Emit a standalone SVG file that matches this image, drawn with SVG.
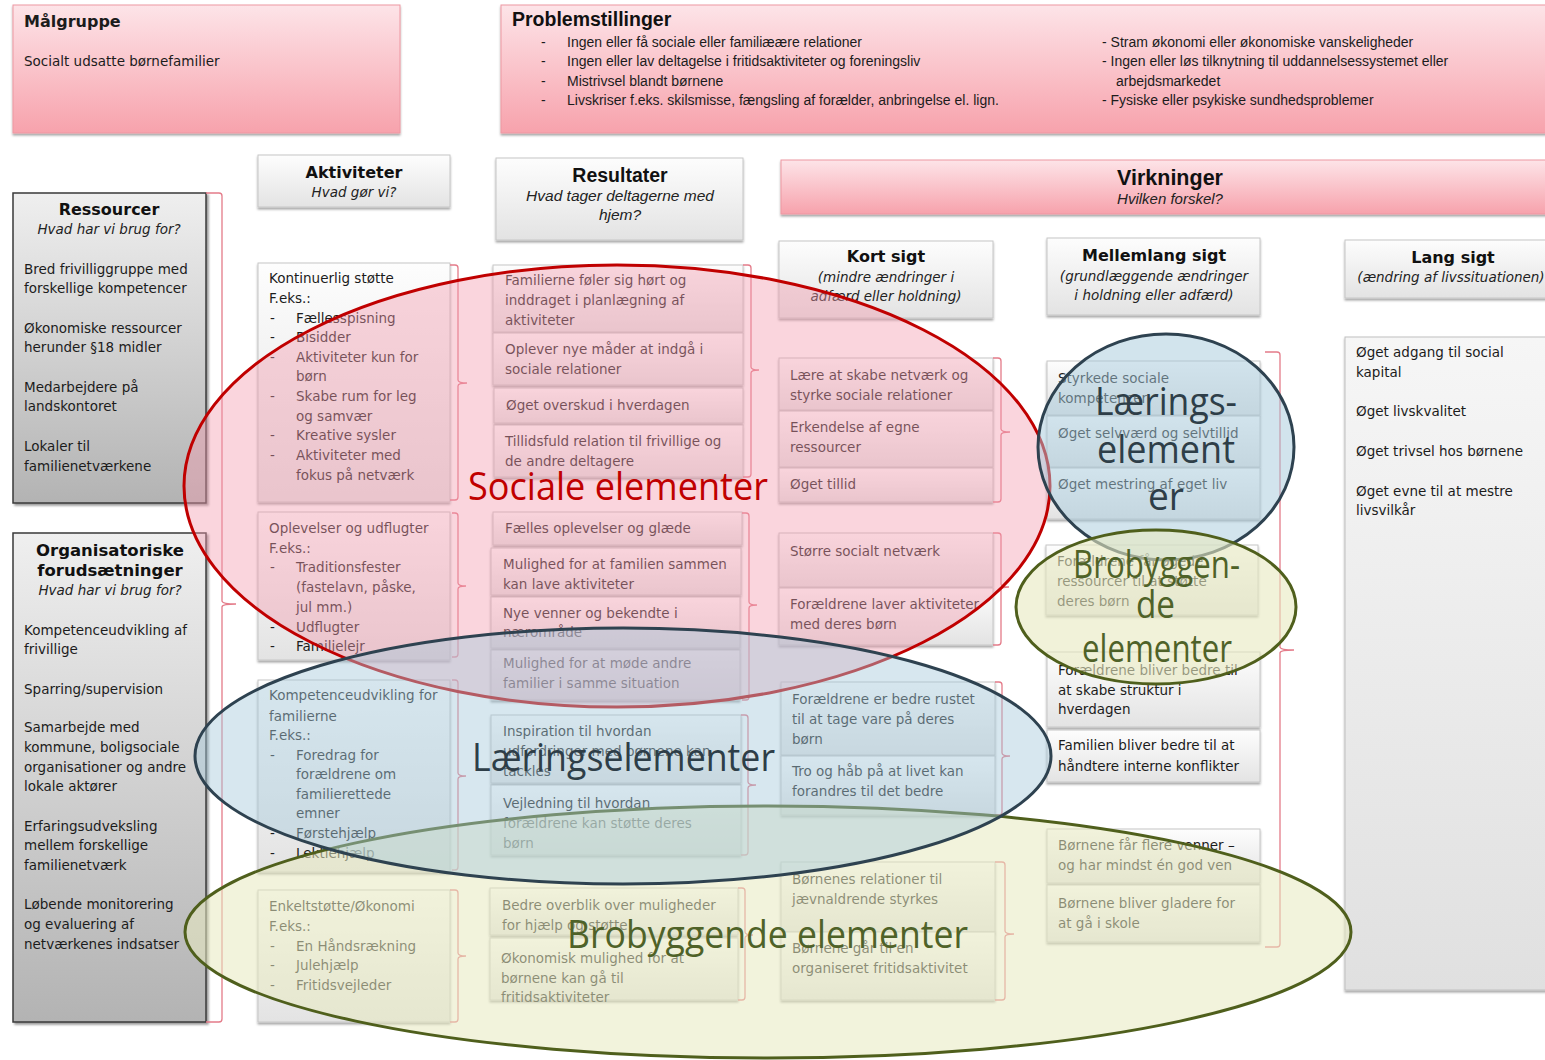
<svg xmlns="http://www.w3.org/2000/svg" width="1545" height="1060" viewBox="0 0 1545 1060">
<defs>
<linearGradient id="gGray" x1="0" y1="0" x2="0" y2="1"><stop offset="0" stop-color="#fdfdfd"/><stop offset="1" stop-color="#e3e3e3"/></linearGradient>
<linearGradient id="gDark" x1="0" y1="0" x2="0" y2="1"><stop offset="0" stop-color="#efefef"/><stop offset="1" stop-color="#b3b3b3"/></linearGradient>
<linearGradient id="gPink" x1="0" y1="0" x2="0" y2="1"><stop offset="0" stop-color="#fde4e8"/><stop offset="1" stop-color="#f7a2ac"/></linearGradient>
<linearGradient id="gLang" x1="0" y1="0" x2="0" y2="1"><stop offset="0" stop-color="#f6f6f6"/><stop offset="1" stop-color="#e0e0e0"/></linearGradient>
<filter id="sh" x="-5%" y="-5%" width="110%" height="120%"><feDropShadow dx="0" dy="2" stdDeviation="0.8" flood-color="#000" flood-opacity="0.35"/></filter>
<filter id="sh2" x="-5%" y="-5%" width="115%" height="115%"><feDropShadow dx="2" dy="2" stdDeviation="1" flood-color="#000" flood-opacity="0.4"/></filter>
<style>
.box{fill:url(#gGray);stroke:#c6c6c6;stroke-width:1;filter:url(#sh)}
.dbox{fill:url(#gDark);stroke:#3a3a3a;stroke-width:1.5;filter:url(#sh2)}
.pbox{fill:url(#gPink);stroke:#ee97a2;stroke-width:1;filter:url(#sh)}
.lbox{fill:url(#gLang);stroke:#c0c0c0;stroke-width:1;filter:url(#sh)}
.t{font-family:"DejaVu Sans",Verdana,sans-serif;font-size:13.5px;fill:#1c1c1c}
.h{font-family:"DejaVu Sans",Verdana,sans-serif;font-size:16px;font-weight:bold;fill:#111;text-anchor:middle}
.hi{font-family:"DejaVu Sans",Verdana,sans-serif;font-size:13.5px;font-style:italic;fill:#222;text-anchor:middle}
.c{font-family:"Liberation Sans",Arial,sans-serif;font-size:14px;fill:#1c1c1c}
.ch{font-family:"Liberation Sans",Arial,sans-serif;font-size:19.5px;font-weight:bold;fill:#111}
.ci{font-family:"Liberation Sans",Arial,sans-serif;font-size:15.5px;font-style:italic;fill:#222;text-anchor:middle}
.br{fill:none;stroke:#e47b89;stroke-width:1.3}
.big{font-family:"Open Sans","Liberation Sans",sans-serif;font-size:38px}
</style>
</defs>

<g id="malgruppe">
<rect class="pbox" x="13" y="5" width="387" height="128"/>
<text x="24" y="27" class="t" style="font-weight:bold;font-size:16px">Målgruppe</text>
<text x="24" y="66" class="t">Socialt udsatte børnefamilier</text>
</g>

<g id="problemstillinger">
<rect class="pbox" x="501" y="5" width="1050" height="128"/>
<text x="512" y="26" class="ch">Problemstillinger</text>
<text x="541" y="47" class="c">-</text><text x="567" y="47" class="c">Ingen eller få sociale eller familiæære relationer</text>
<text x="541" y="66" class="c">-</text><text x="567" y="66" class="c">Ingen eller lav deltagelse i fritidsaktiviteter og foreningsliv</text>
<text x="541" y="86" class="c">-</text><text x="567" y="86" class="c">Mistrivsel blandt børnene</text>
<text x="541" y="105" class="c">-</text><text x="567" y="105" class="c">Livskriser f.eks. skilsmisse, fængsling af forælder, anbringelse el. lign.</text>
<text x="1102" y="47" class="c">- Stram økonomi eller økonomiske vanskeligheder</text>
<text x="1102" y="66" class="c">- Ingen eller løs tilknytning til uddannelsessystemet eller</text>
<text x="1116" y="86" class="c">arbejdsmarkedet</text>
<text x="1102" y="105" class="c">- Fysiske eller psykiske sundhedsproblemer</text>
</g>

<g id="aktiviteter-header">
<rect class="box" x="258" y="155" width="192" height="52"/>
<text x="354" y="178" class="h">Aktiviteter</text>
<text x="354" y="197" class="hi">Hvad gør vi?</text>
</g>

<g id="resultater-header">
<rect class="box" x="496" y="158" width="247" height="82"/>
<text x="620" y="182" class="ch" text-anchor="middle">Resultater</text>
<text x="620" y="201" class="ci">Hvad tager deltagerne med</text>
<text x="620" y="220" class="ci">hjem?</text>
</g>

<g id="virkninger-header">
<rect class="pbox" x="781" y="160" width="770" height="54"/>
<text x="1170" y="185" class="ch" text-anchor="middle" style="font-size:21.5px">Virkninger</text>
<text x="1170" y="204" class="ci" style="font-size:15px">Hvilken forskel?</text>
</g>

<g id="ressourcer">
<rect class="dbox" x="13" y="193" width="193" height="310"/>
<text x="109" y="215" class="h">Ressourcer</text>
<text x="109" y="234" class="hi">Hvad har vi brug for?</text>
<text x="24" y="274" class="t">Bred frivilliggruppe med</text>
<text x="24" y="293" class="t">forskellige kompetencer</text>
<text x="24" y="333" class="t">Økonomiske ressourcer</text>
<text x="24" y="352" class="t">herunder §18 midler</text>
<text x="24" y="392" class="t">Medarbejdere på</text>
<text x="24" y="411" class="t">landskontoret</text>
<text x="24" y="451" class="t">Lokaler til</text>
<text x="24" y="471" class="t">familienetværkene</text>
</g>

<g id="organisatoriske">
<rect class="dbox" x="13" y="533" width="193" height="489"/>
<text x="110" y="556" class="h" style="font-size:16.5px">Organisatoriske</text>
<text x="110" y="576" class="h" style="font-size:16.5px">forudsætninger</text>
<text x="110" y="595" class="hi">Hvad har vi brug for?</text>
<text x="24" y="635" class="t">Kompetenceudvikling af</text>
<text x="24" y="654" class="t">frivillige</text>
<text x="24" y="694" class="t">Sparring/supervision</text>
<text x="24" y="732" class="t">Samarbejde med</text>
<text x="24" y="752" class="t">kommune, boligsociale</text>
<text x="24" y="772" class="t">organisationer og andre</text>
<text x="24" y="791" class="t">lokale aktører</text>
<text x="24" y="831" class="t">Erfaringsudveksling</text>
<text x="24" y="850" class="t">mellem forskellige</text>
<text x="24" y="870" class="t">familienetværk</text>
<text x="24" y="909" class="t">Løbende monitorering</text>
<text x="24" y="929" class="t">og evaluering af</text>
<text x="24" y="949" class="t">netværkenes indsatser</text>
</g>

<g id="akt-kontinuerlig">
<rect class="box" x="258" y="263" width="192" height="239"/>
<text x="269" y="283" class="t">Kontinuerlig støtte</text>
<text x="269" y="303" class="t">F.eks.:</text>
<text x="270" y="323" class="t">-</text><text x="296" y="323" class="t">Fællesspisning</text>
<text x="270" y="342" class="t">-</text><text x="296" y="342" class="t">Bisidder</text>
<text x="270" y="362" class="t">-</text><text x="296" y="362" class="t">Aktiviteter kun for</text>
<text x="296" y="381" class="t">børn</text>
<text x="270" y="401" class="t">-</text><text x="296" y="401" class="t">Skabe rum for leg</text>
<text x="296" y="421" class="t">og samvær</text>
<text x="270" y="440" class="t">-</text><text x="296" y="440" class="t">Kreative sysler</text>
<text x="270" y="460" class="t">-</text><text x="296" y="460" class="t">Aktiviteter med</text>
<text x="296" y="480" class="t">fokus på netværk</text>
</g>

<g id="akt-oplevelser">
<rect class="box" x="258" y="512" width="192" height="148"/>
<text x="269" y="533" class="t">Oplevelser og udflugter</text>
<text x="269" y="553" class="t">F.eks.:</text>
<text x="270" y="572" class="t">-</text><text x="296" y="572" class="t">Traditionsfester</text>
<text x="296" y="592" class="t">(fastelavn, påske,</text>
<text x="296" y="612" class="t">jul mm.)</text>
<text x="270" y="632" class="t">-</text><text x="296" y="632" class="t">Udflugter</text>
<text x="270" y="651" class="t">-</text><text x="296" y="651" class="t">Familielejr</text>
</g>

<g id="akt-kompetence">
<rect class="box" x="258" y="680" width="192" height="192"/>
<text x="269" y="700" class="t">Kompetenceudvikling for</text>
<text x="269" y="721" class="t">familierne</text>
<text x="269" y="740" class="t">F.eks.:</text>
<text x="270" y="760" class="t">-</text><text x="296" y="760" class="t">Foredrag for</text>
<text x="296" y="779" class="t">forældrene om</text>
<text x="296" y="799" class="t">familierettede</text>
<text x="296" y="818" class="t">emner</text>
<text x="270" y="838" class="t">-</text><text x="296" y="838" class="t">Førstehjælp</text>
<text x="270" y="858" class="t">-</text><text x="296" y="858" class="t">Lektiehjælp</text>
</g>

<g id="akt-enkeltstotte">
<rect class="box" x="258" y="890" width="192" height="132"/>
<text x="269" y="911" class="t">Enkeltstøtte/Økonomi</text>
<text x="269" y="931" class="t">F.eks.:</text>
<text x="270" y="951" class="t">-</text><text x="296" y="951" class="t">En Håndsrækning</text>
<text x="270" y="970" class="t">-</text><text x="296" y="970" class="t">Julehjælp</text>
<text x="270" y="990" class="t">-</text><text x="296" y="990" class="t">Fritidsvejleder</text>
</g>

<g id="res-1">
<rect class="box" x="493" y="265" width="250" height="67"/>
<text x="505" y="285" class="t">Familierne føler sig hørt og</text>
<text x="505" y="305" class="t">inddraget i planlægning af</text>
<text x="505" y="325" class="t">aktiviteter</text>
<rect class="box" x="493" y="333" width="250" height="52"/>
<text x="505" y="354" class="t">Oplever nye måder at indgå i</text>
<text x="505" y="374" class="t">sociale relationer</text>
<rect class="box" x="494" y="388" width="249" height="35"/>
<text x="506" y="410" class="t">Øget overskud i hverdagen</text>
<rect class="box" x="494" y="425" width="249" height="52"/>
<text x="505" y="446" class="t">Tillidsfuld relation til frivillige og</text>
<text x="505" y="466" class="t">de andre deltagere</text>
</g>

<g id="res-2">
<rect class="box" x="493" y="512" width="249" height="33"/>
<text x="505" y="533" class="t">Fælles oplevelser og glæde</text>
<rect class="box" x="491" y="548" width="250" height="47"/>
<text x="503" y="569" class="t">Mulighed for at familien sammen</text>
<text x="503" y="589" class="t">kan lave aktiviteter</text>
<rect class="box" x="491" y="597" width="249" height="51"/>
<text x="503" y="618" class="t">Nye venner og bekendte i</text>
<text x="503" y="637" class="t">nærområde</text>
<rect class="box" x="491" y="650" width="249" height="50"/>
<text x="503" y="668" class="t">Mulighed for at møde andre</text>
<text x="503" y="688" class="t">familier i samme situation</text>
</g>

<g id="res-3">
<rect class="box" x="491" y="715" width="250" height="68"/>
<text x="503" y="736" class="t">Inspiration til hvordan</text>
<text x="503" y="756" class="t">udfordringer med børnene kan</text>
<text x="503" y="776" class="t">tackles</text>
<rect class="box" x="491" y="785" width="250" height="70"/>
<text x="503" y="808" class="t">Vejledning til hvordan</text>
<text x="503" y="828" class="t">forældrene kan støtte deres</text>
<text x="503" y="848" class="t">børn</text>
</g>

<g id="res-4">
<rect class="box" x="490" y="888" width="248" height="47"/>
<text x="502" y="910" class="t">Bedre overblik over muligheder</text>
<text x="502" y="930" class="t">for hjælp og støtte</text>
<rect class="box" x="490" y="938" width="248" height="62"/>
<text x="501" y="963" class="t">Økonomisk mulighed for at</text>
<text x="501" y="983" class="t">børnene kan gå til</text>
<text x="501" y="1002" class="t">fritidsaktiviteter</text>
</g>

<g id="kort-header">
<rect class="box" x="779" y="241" width="214" height="77"/>
<text x="886" y="262" class="h">Kort sigt</text>
<text x="886" y="282" class="hi">(mindre ændringer i</text>
<text x="886" y="301" class="hi">adfærd eller holdning)</text>
</g>

<g id="kort-1">
<rect class="box" x="779" y="358" width="214" height="52"/>
<text x="790" y="380" class="t">Lære at skabe netværk og</text>
<text x="790" y="400" class="t">styrke sociale relationer</text>
<rect class="box" x="779" y="411" width="214" height="56"/>
<text x="790" y="432" class="t">Erkendelse af egne</text>
<text x="790" y="452" class="t">ressourcer</text>
<rect class="box" x="779" y="468" width="214" height="34"/>
<text x="790" y="489" class="t">Øget tillid</text>
</g>

<g id="kort-2">
<rect class="box" x="779" y="533" width="214" height="54"/>
<text x="790" y="556" class="t">Større socialt netværk</text>
<rect class="box" x="779" y="588" width="214" height="57"/>
<text x="790" y="609" class="t">Forældrene laver aktiviteter</text>
<text x="790" y="629" class="t">med deres børn</text>
</g>

<g id="kort-3">
<rect class="box" x="781" y="682" width="214" height="73"/>
<text x="792" y="704" class="t">Forældrene er bedre rustet</text>
<text x="792" y="724" class="t">til at tage vare på deres</text>
<text x="792" y="744" class="t">børn</text>
<rect class="box" x="781" y="756" width="214" height="59"/>
<text x="792" y="776" class="t">Tro og håb på at livet kan</text>
<text x="792" y="796" class="t">forandres til det bedre</text>
</g>

<g id="kort-4">
<rect class="box" x="781" y="862" width="214" height="70"/>
<text x="792" y="884" class="t">Børnenes relationer til</text>
<text x="792" y="904" class="t">jævnaldrende styrkes</text>
<rect class="box" x="781" y="932" width="214" height="68"/>
<text x="792" y="953" class="t">Børnene går til en</text>
<text x="792" y="973" class="t">organiseret fritidsaktivitet</text>
</g>

<g id="mellem-header">
<rect class="box" x="1047" y="238" width="213" height="77"/>
<text x="1154" y="261" class="h">Mellemlang sigt</text>
<text x="1154" y="281" class="hi">(grundlæggende ændringer</text>
<text x="1154" y="300" class="hi">i holdning eller adfærd)</text>
</g>

<g id="mellem-1">
<rect class="box" x="1047" y="361" width="213" height="54"/>
<text x="1058" y="383" class="t">Styrkede sociale</text>
<text x="1058" y="403" class="t">kompetencer</text>
<rect class="box" x="1047" y="416" width="213" height="51"/>
<text x="1058" y="438" class="t">Øget selvværd og selvtillid</text>
<rect class="box" x="1047" y="468" width="213" height="51"/>
<text x="1058" y="489" class="t">Øget mestring af eget liv</text>
</g>

<g id="mellem-2">
<rect class="box" x="1046" y="545" width="212" height="70"/>
<text x="1057" y="566" class="t">Forældrene får øgede</text>
<text x="1057" y="586" class="t">ressourcer til at støtte</text>
<text x="1057" y="606" class="t">deres børn</text>
</g>

<g id="mellem-3">
<rect class="box" x="1047" y="652" width="213" height="75"/>
<text x="1058" y="675" class="t">Forældrene bliver bedre til</text>
<text x="1058" y="695" class="t">at skabe struktur i</text>
<text x="1058" y="714" class="t">hverdagen</text>
</g>

<g id="mellem-4">
<rect class="box" x="1047" y="730" width="213" height="52"/>
<text x="1058" y="750" class="t">Familien bliver bedre til at</text>
<text x="1058" y="771" class="t">håndtere interne konflikter</text>
</g>

<g id="mellem-5">
<rect class="box" x="1047" y="829" width="213" height="54"/>
<text x="1058" y="850" class="t">Børnene får flere venner –</text>
<text x="1058" y="870" class="t">og har mindst én god ven</text>
<rect class="box" x="1047" y="885" width="213" height="57"/>
<text x="1058" y="908" class="t">Børnene bliver gladere for</text>
<text x="1058" y="928" class="t">at gå i skole</text>
</g>

<g id="lang-header">
<rect class="box" x="1345" y="240" width="210" height="58"/>
<text x="1453" y="263" class="h">Lang sigt</text>
<text x="1451" y="282" class="hi">(ændring af livssituationen)</text>
</g>

<g id="lang-body">
<rect class="lbox" x="1345" y="337" width="210" height="653"/>
<text x="1356" y="357" class="t">Øget adgang til social</text>
<text x="1356" y="377" class="t">kapital</text>
<text x="1356" y="416" class="t">Øget livskvalitet</text>
<text x="1356" y="456" class="t">Øget trivsel hos børnene</text>
<text x="1356" y="496" class="t">Øget evne til at mestre</text>
<text x="1356" y="515" class="t">livsvilkår</text>
</g>

<g id="connectors">
<path class="br" d="M206,193 H219 Q222,193 222,196 V601 Q222,604 236,604 Q222,604 222,607 V1019 Q222,1022 219,1022 H206"/>
<path class="br" d="M450,265 H455 Q458,265 458,268 V380 Q458,383 467,383 Q458,383 458,386 V497 Q458,500 455,500 H450"/>
<path class="br" d="M452,513 H455 Q458,513 458,516 V583 Q458,586 466,586 Q458,586 458,589 V654 Q458,657 455,657 H452"/>
<path class="br" d="M452,680 H455 Q458,680 458,683 V773 Q458,776 466,776 Q458,776 458,779 V867 Q458,870 455,870 H452"/>
<path class="br" d="M450,890 H455 Q458,890 458,893 V953 Q458,956 466,956 Q458,956 458,959 V1019 Q458,1022 455,1022 H450"/>
<path class="br" d="M743,265 H748 Q751,265 751,268 V367 Q751,370 759,370 Q751,370 751,373 V474 Q751,477 748,477 H743"/>
<path class="br" d="M742,513 H746 Q749,513 749,516 V602 Q749,605 757,605 Q749,605 749,608 V697 Q749,700 746,700 H742"/>
<path class="br" d="M741,715 H745 Q748,715 748,718 V782 Q748,785 756,785 Q748,785 748,788 V852 Q748,855 745,855 H741"/>
<path class="br" d="M738,888 H742 Q745,888 745,891 V932 Q745,935 753,935 Q745,935 745,938 V997 Q745,1000 742,1000 H738"/>
<path class="br" d="M993,358 H998 Q1001,358 1001,361 V429 Q1001,432 1010,432 Q1001,432 1001,435 V499 Q1001,502 998,502 H993"/>
<path class="br" d="M993,533 H998 Q1001,533 1001,536 V584 Q1001,587 1009,587 Q1001,587 1001,590 V642 Q1001,645 998,645 H993"/>
<path class="br" d="M995,682 H999 Q1002,682 1002,685 V753 Q1002,756 1010,756 Q1002,756 1002,759 V812 Q1002,815 999,815 H995"/>
<path class="br" d="M995,862 H1002 Q1005,862 1005,865 V931 Q1005,934 1014,934 Q1005,934 1005,937 V997 Q1005,1000 1002,1000 H995"/>
<path class="br" d="M1265,352 H1277 Q1280,352 1280,355 V647 Q1280,650 1294,650 Q1280,650 1280,653 V944 Q1280,947 1277,947 H1265"/>
</g>

<g id="overlay-sociale">
<ellipse cx="617" cy="486" rx="433" ry="221" fill="#f29aae" fill-opacity="0.42" stroke="#c00000" stroke-width="3"/>
</g>
<g id="overlay-brobyggende">
<ellipse cx="768" cy="932" rx="583" ry="126" fill="#e8eac0" fill-opacity="0.55" stroke="#4f5f1c" stroke-width="3"/>
</g>
<g id="overlay-laering">
<ellipse cx="623" cy="756" rx="428" ry="128" fill="#a6cadc" fill-opacity="0.45" stroke="#2e4250" stroke-width="3"/>
</g>
<g id="overlay-laering-small">
<ellipse cx="1166" cy="447" rx="128" ry="113" fill="#a6cadc" fill-opacity="0.5" stroke="#2e4250" stroke-width="3"/>
</g>
<g id="overlay-bro-small">
<ellipse cx="1156" cy="607" rx="140" ry="77" fill="#e8eac0" fill-opacity="0.6" stroke="#4f5f1c" stroke-width="3"/>
</g>

<g id="overlay-labels">
<text x="468" y="500" class="big" fill="#c00000" textLength="300" lengthAdjust="spacingAndGlyphs">Sociale elementer</text>
<text x="472" y="771" class="big" fill="#2e3e48" textLength="303" lengthAdjust="spacingAndGlyphs">Læringselementer</text>
<text x="567" y="948" class="big" fill="#4f6228" textLength="401" lengthAdjust="spacingAndGlyphs">Brobyggende elementer</text>
<text x="1095" y="415" class="big" fill="#2e3e48" textLength="142" lengthAdjust="spacingAndGlyphs">Lærings-</text>
<text x="1097" y="463" class="big" fill="#2e3e48" textLength="138" lengthAdjust="spacingAndGlyphs">element</text>
<text x="1148" y="510" class="big" fill="#2e3e48" textLength="36" lengthAdjust="spacingAndGlyphs">er</text>
<text x="1073" y="578" class="big" fill="#4f6228" textLength="167" lengthAdjust="spacingAndGlyphs">Brobyggen-</text>
<text x="1136" y="618" class="big" fill="#4f6228" textLength="39" lengthAdjust="spacingAndGlyphs">de</text>
<text x="1082" y="662" class="big" fill="#4f6228" textLength="150" lengthAdjust="spacingAndGlyphs">elementer</text>
</g>
</svg>
